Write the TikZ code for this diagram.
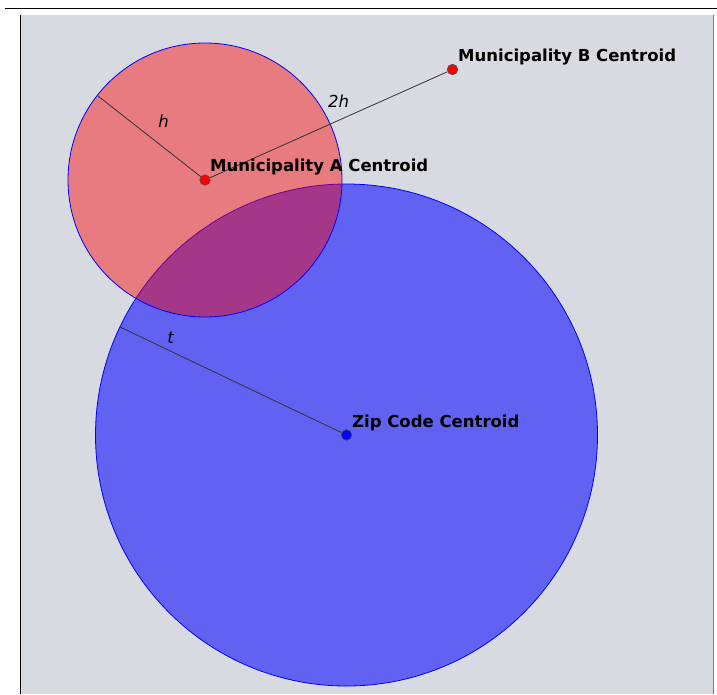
\documentclass[tikz,border=0pt]{standalone}
\usepackage{fontspec}
\newfontfamily\lblfont{DejaVu Sans}
\definecolor{panelgray}{RGB}{216,218,226}
\tikzset{
  centroid/.style={circle, draw=black!70, line width=0.6pt, inner sep=0pt, minimum size=10.5pt},
  cname/.style={anchor=base west, inner sep=0pt, font=\lblfont\bfseries\fontsize{16.5}{19}\selectfont},
  dist/.style={anchor=base, inner sep=0pt, font=\lblfont\itshape\fontsize{16.5}{19}\selectfont},
  radiusline/.style={draw=black!80, line width=0.8pt},
  rim/.style={draw=blue, line width=0.8pt},
}

\begin{document}
\begin{tikzpicture}[x=1pt,y=-1pt]
    \useasboundingbox (0,0) rectangle (717,694);

    % Rahmen und Hintergrund
    \fill[panelgray] (21,15) rectangle (713,694);
    \draw[line width=1pt] (5,8) -- (717,8);
    \draw[white, line width=1pt] (21,14.5) -- (713,14.5);
    \draw[line width=1.2pt] (20.5,15) -- (20.5,694);
    \draw[gray, line width=1.5pt] (713.5,15) -- (713.5,694);

    % Radien
    \def\rzip{251pt}
    \def\rmun{137pt}

    % Kreise
    \fill[blue, fill opacity=0.55] (346.5,435) circle (\rzip);
    \draw[rim] (346.5,435) circle (\rzip);
    \fill[red, fill opacity=0.43] (205,180) circle (\rmun);
    \draw[rim] (205,180) circle (\rmun);

    % Schwerpunkte
    \node[centroid, fill=red] (A) at (205,180) {};
    \node[centroid, fill=red] (B) at (452.5,69.5) {};
    \node[centroid, fill=blue] (Z) at (346.5,435) {};
    \coordinate (hend) at (98,96);
    \coordinate (tend) at (120,327);

    % Strecken
    \draw[radiusline] (A) -- (hend);
    \draw[radiusline] (A) -- (B);
    \draw[radiusline] (Z) -- (tend);

    % Beschriftungen
    \node[cname] (Alab) at (210,171) {Municipality A Centroid};
    \node[cname] (Blab) at (458,61) {Municipality B Centroid};
    \node[cname] (Zlab) at (352,427) {Zip Code Centroid};
    \node[dist] (hlab) at (163.5,127) {h};
    \node[dist] (hhlab) at (338.5,107) {2h};
    \node[dist] (tlab) at (170.5,343) {t};
\end{tikzpicture}
\end{document}
